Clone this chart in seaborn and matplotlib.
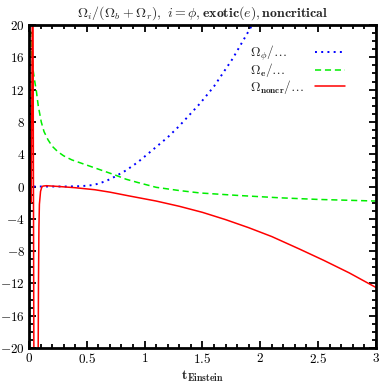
import numpy as np
import pandas as pd
import seaborn as sns
import matplotlib
matplotlib.use("Agg")
import matplotlib.pyplot as plt
from matplotlib.ticker import MultipleLocator

# valores
phi_t = [0.04, 0.1, 0.2, 0.3, 0.4, 0.45, 0.5, 0.55, 0.6, 0.67, 0.74, 0.84, 0.94,
         1.05, 1.2, 1.3, 1.48, 1.6, 1.76, 1.93, 2.0]
phi_v = [0.0, 0.0, 0.0, 0.0, 0.02, 0.05, 0.1, 0.18, 0.35, 0.7, 1.2, 2.0, 3.0,
         4.3, 6.1, 7.5, 10.3, 12.4, 15.8, 20.0, 21.5]

exo_t = [0.01, 0.02, 0.035, 0.05, 0.063, 0.08, 0.106, 0.13, 0.164, 0.2, 0.25,
         0.3, 0.37, 0.45, 0.57, 0.65, 0.74, 0.84, 0.94, 1.1, 1.3, 1.48, 1.8,
         2.17, 2.5, 3.0]
exo_v = [20.5, 17.0, 14.5, 13.0, 11.9, 10.0, 8.0, 6.8, 5.8, 5.0, 4.3,
         3.8, 3.3, 2.9, 2.3, 1.9, 1.45, 0.9, 0.5, -0.1, -0.5, -0.8, -1.1,
         -1.4, -1.6, -1.8]

# rama singular cerca de t=0
nc_pico_t = [0.005, 0.012, 0.02, 0.03, 0.035, 0.043]
nc_pico_v = [8.0, 0.0, -2.0, 25.0, 20.0, -25.0]

nc_t = [0.078, 0.082, 0.086, 0.09, 0.1, 0.11, 0.12, 0.15, 0.26, 0.4, 0.57,
        0.7, 0.86, 1.1, 1.3, 1.5, 1.7, 1.9, 2.1, 2.34, 2.55, 2.77, 3.0]
nc_v = [-25.0, -12.0, -5.0, -2.2, -0.6, -0.1, 0.05, 0.1, 0.0, -0.15, -0.4,
        -0.7, -1.15, -1.8, -2.45, -3.2, -4.1, -5.1, -6.2, -7.75, -9.15, -10.7, -12.5]

xticks = [0, 0.5, 1, 1.5, 2, 2.5, 3]
xtick_labels = ["0", "0.5", "1", "1.5", "2", "2.5", "3"]
yticks = [-20, -16, -12, -8, -4, 0, 4, 8, 12, 16, 20]

sns.set_theme(style="ticks")
plt.rcParams["font.family"] = ["serif"]
plt.rcParams["mathtext.fontset"] = "cm"
plt.rcParams["font.serif"] = ["DejaVu Serif"]

fig = plt.figure(figsize=(3.82, 3.84), dpi=100)
ax = fig.add_axes([0.0759, 0.0938, 0.908, 0.841])

sns.lineplot(x=phi_t, y=phi_v, ax=ax, color="#0000ff", lw=1.4,
             linestyle=(0, (1, 2.2)), sort=False, estimator=None,
             label=r"$\Omega_\phi/\ldots$")
sns.lineplot(x=exo_t, y=exo_v, ax=ax, color="#00ee00", lw=1.1,
             linestyle=(0, (4, 2.5)), sort=False, estimator=None,
             label=r"$\Omega_\mathbf{e}/\ldots$")
sns.lineplot(x=nc_t, y=nc_v, ax=ax, color="#ff0000", lw=1.1,
             sort=False, estimator=None,
             label=r"$\Omega_\mathbf{noncr}/\ldots$")
sns.lineplot(x=nc_pico_t, y=nc_pico_v, ax=ax, color="#ff0000", lw=1.1,
             sort=False, estimator=None)

ax.set_xlim(0, 3)
ax.set_ylim(-20, 20)
ax.set_xticks(xticks)
ax.set_xticklabels([f"${v}$" for v in xtick_labels])
ax.set_yticks(yticks)
ax.set_yticklabels([f"${v}$" for v in yticks])
ax.xaxis.set_minor_locator(MultipleLocator(0.1))
ax.yaxis.set_minor_locator(MultipleLocator(1))
ax.tick_params(which="both", direction="in", top=True, right=True,
               labelsize=9.5, pad=3, color="black", labelcolor="black")
ax.tick_params(which="major", length=5, width=1.3)
ax.tick_params(which="minor", length=3, width=1.3)
for s in ax.spines.values():
    s.set_linewidth(2)
    s.set_color("black")

ax.set_xlabel(r"$\mathbf{t_{Einstein}}$", fontsize=10, labelpad=2)
ax.set_ylabel("")
ax.set_title(r"$\Omega_i/(\Omega_b+\Omega_r),\ i=\phi,\mathbf{exotic}(e),\mathbf{noncritical}$",
             fontsize=10, pad=6)

leg = ax.legend(loc="upper right", bbox_to_anchor=(0.93, 0.962), frameon=False,
                markerfirst=False, fontsize=9.5, handlelength=2.3,
                labelspacing=-0.12, handletextpad=0.8, borderpad=0)

# texto alineado a la izquierda, muestras alineadas a la derecha (estilo gnuplot)
fig.canvas.draw()
anchos = [t.get_window_extent().width for t in leg.get_texts()]
wmax = max(anchos)
columna = leg._legend_handle_box.get_children()[0]
for item, w in zip(columna.get_children(), anchos):
    item.sep += (wmax - w) * 72 / fig.dpi

fig.savefig("out.png", dpi=100)
